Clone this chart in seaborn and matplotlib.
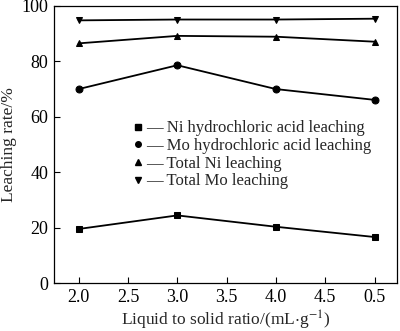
import matplotlib
matplotlib.use("Agg")
import matplotlib.pyplot as plt
import seaborn as sns
import pandas as pd
from matplotlib.lines import Line2D

x_pos = [2.0, 3.0, 4.0, 5.0]
xtick_vals = [2.0, 2.5, 3.0, 3.5, 4.0, 4.5, 5.0]
xtick_labels = ["2.0", "2.5", "3.0", "3.5", "4.0", "4.5", "0.5"]
ni_hcl = [19.5, 24.4, 20.3, 16.6]
mo_hcl = [70.0, 78.6, 70.0, 66.1]
total_ni = [86.5, 89.2, 88.9, 87.1]
total_mo = [94.8, 95.1, 95.1, 95.4]
labels = ["Ni hydrochloric acid leaching", "Mo hydrochloric acid leaching",
          "Total Ni leaching", "Total Mo leaching"]
markers = ["s", "o", "^", "v"]

sns.set_style("ticks")
plt.rcParams["font.family"] = ["Liberation Serif", "DejaVu Serif"]
plt.rcParams["mathtext.fontset"] = "stix"

fig = plt.figure(figsize=(4.0, 3.31), dpi=100)
ax = fig.add_axes([0.135, 0.145, 0.858, 0.837])

series = [ni_hcl, mo_hcl, total_ni, total_mo]
for vals, lab, mk in zip(series, labels, markers):
    df = pd.DataFrame({"x": x_pos, "y": vals})
    sns.lineplot(data=df, x="x", y="y", ax=ax, color="black", lw=1.3,
                 marker=mk, markersize=5, markeredgecolor="black",
                 markerfacecolor="black")

ax.set_xlim(1.75, 5.23)
ax.set_ylim(0, 100)
ax.set_xticks(xtick_vals)
ax.set_xticklabels(xtick_labels)
ax.set_yticks([0, 20, 40, 60, 80, 100])
ax.tick_params(direction="in", length=4, width=0.8, labelsize=13, colors="black", pad=4)
for s in ax.spines.values():
    s.set_linewidth(0.9)
    s.set_color("black")
ax.set_xlabel("Liquid to solid ratio/(mL$\\cdot$g$^{-1}$)", fontsize=12.5, labelpad=2)
ax.set_ylabel("Leaching rate/%", fontsize=12.5, labelpad=3)

handles = [Line2D([], [], color="black", marker=m, markersize=4, linestyle="none") for m in markers]
ax.legend(handles, ["\u2014 " + l for l in labels], loc="upper left",
          bbox_to_anchor=(0.205, 0.617), frameon=False, fontsize=12,
          handlelength=0.6, handletextpad=0.2, labelspacing=0.1, borderpad=0)

fig.savefig("out.png", dpi=100)
